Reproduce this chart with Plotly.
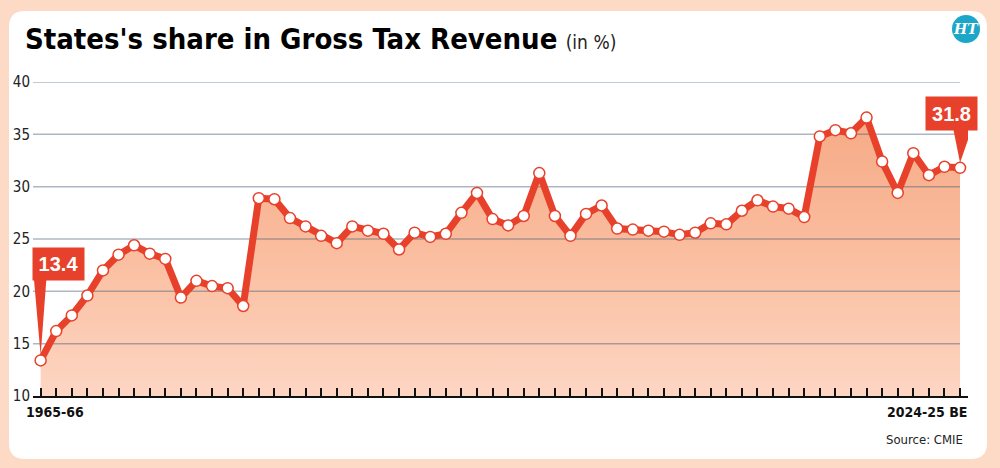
import plotly.graph_objects as go

# ---------------- data ----------------
start_years = list(range(1965, 2025))
years = [f"{y}-{(y + 1) % 100:02d}" for y in start_years]
years[-1] = years[-1] + " BE"

share = [13.4, 16.2, 17.7, 19.6, 22.0, 23.5, 24.4, 23.6, 23.1, 19.4,
         21.0, 20.5, 20.3, 18.6, 28.9, 28.8, 27.0, 26.2, 25.3, 24.6,
         26.2, 25.8, 25.5, 24.0, 25.6, 25.2, 25.5, 27.5, 29.4, 26.9,
         26.3, 27.2, 31.3, 27.2, 25.3, 27.4, 28.2, 26.0, 25.9, 25.8,
         25.7, 25.4, 25.6, 26.5, 26.4, 27.7, 28.7, 28.1, 27.9, 27.1,
         34.8, 35.4, 35.1, 36.6, 32.4, 29.4, 33.2, 31.1, 31.9, 31.8]

y_ticks = [10, 15, 20, 25, 30, 35, 40]
title_text = "States's share in Gross Tax Revenue"
unit_text = "(in %)"
source_text = "Source: CMIE"

# ---------------- layout geometry ----------------
W_FIG, H_FIG = 1000, 468
L, R, T, B = 33, 968, 82, 396
PW, PH = R - L, B - T

def px(x):
    return (x - L) / PW

def py(y):
    return (B - y) / PH

RED = "#E8412B"
PEACH = "#FDDAC6"
NARROW = "DejaVu Sans Condensed, Roboto, sans-serif"

idx = list(range(len(share)))
x_lo, x_hi = -0.49, len(share) - 1 + 0.51

fig = go.Figure()

# baseline for fill
fig.add_trace(go.Scatter(x=idx, y=[y_ticks[0]] * len(idx), mode="lines",
                         line=dict(width=0), hoverinfo="skip", showlegend=False))
# gradient area
fig.add_trace(go.Scatter(
    x=idx, y=share, mode="lines", line=dict(width=0), fill="tonexty",
    fillgradient=dict(type="vertical", start=y_ticks[0], stop=max(share),
                      colorscale=[[0, "rgb(253,214,195)"], [0.5, "rgb(250,190,160)"],
                                  [1, "rgb(246,170,134)"]]),
    hoverinfo="skip", showlegend=False))

# gridlines (drawn over the area, under the line)
gx, gy = [], []
for t in y_ticks[1:]:
    gx += [x_lo, len(share) - 1, None]
    gy += [t, t, None]
fig.add_trace(go.Scatter(x=gx, y=gy, mode="lines",
                         line=dict(color="rgba(70,95,120,0.45)", width=1.5),
                         hoverinfo="skip", showlegend=False))

# main line
fig.add_trace(go.Scatter(
    x=idx, y=share, mode="lines+markers",
    line=dict(color=RED, width=7),
    marker=dict(size=11, color="white", line=dict(color=RED, width=1.5)),
    text=years, hovertemplate="%{text}: %{y}%<extra></extra>", showlegend=False))

# ---------------- shapes ----------------
rr = 16
cx0, cx1, cy0, cy1 = 9, 987, 11, 459
def P(x, y):
    return f"{px(x):.5f},{py(y):.5f}"
card = (f"M {P(cx0 + rr, cy0)} L {P(cx1 - rr, cy0)} Q {P(cx1, cy0)} {P(cx1, cy0 + rr)} "
        f"L {P(cx1, cy1 - rr)} Q {P(cx1, cy1)} {P(cx1 - rr, cy1)} "
        f"L {P(cx0 + rr, cy1)} Q {P(cx0, cy1)} {P(cx0, cy1 - rr)} "
        f"L {P(cx0, cy0 + rr)} Q {P(cx0, cy0)} {P(cx0 + rr, cy0)} Z")

shapes = [
    dict(type="path", xref="paper", yref="paper", path=card,
         fillcolor="white", line=dict(width=0), layer="below"),
    dict(type="circle", xref="paper", yref="paper",
         x0=px(952), x1=px(980), y0=py(43), y1=py(15),
         fillcolor="#1CA6C8", line=dict(width=0), layer="above"),
    # callout pointers
    dict(type="path", xref="x", yref="y", xsizemode="pixel", ysizemode="pixel",
         xanchor=idx[0], yanchor=share[0], path="M 0,5 L -7,85 L 6,85 Z",
         fillcolor=RED, line=dict(width=0), layer="above"),
    dict(type="path", xref="x", yref="y", xsizemode="pixel", ysizemode="pixel",
         xanchor=idx[-1], yanchor=share[-1], path="M 0,5 L -7,40 L 12,40 Z",
         fillcolor=RED, line=dict(width=0), layer="above"),
]

annotations = [
    dict(xref="paper", yref="paper", x=px(23), y=py(39), xanchor="left", yanchor="middle",
         showarrow=False,
         text=f"<b>{title_text}</b> <span style='font-size:19px;color:#222'>{unit_text}</span>",
         font=dict(family=NARROW, size=29, color="#000")),
    dict(xref="paper", yref="paper", x=px(966), y=py(29), xanchor="center", yanchor="middle",
         showarrow=False, text="<b><i>HT</i></b>",
         font=dict(family="DejaVu Serif", size=14, color="white")),
    dict(xref="x", yref="y", x=idx[0], y=share[0], showarrow=False,
         xshift=18, yshift=96, width=51, height=32, borderpad=0, bgcolor=RED,
         text=f"<b>{share[0]}</b>", font=dict(family="Liberation Sans, Arial, sans-serif", size=20, color="white")),
    dict(xref="x", yref="y", x=idx[-1], y=share[-1], showarrow=False,
         xshift=-8.5, yshift=54, width=51, height=33, borderpad=0, bgcolor=RED,
         text=f"<b>{share[-1]}</b>", font=dict(family="Liberation Sans, Arial, sans-serif", size=20, color="white")),
    dict(xref="paper", yref="paper", x=px(24), y=py(412), xanchor="left", yanchor="middle",
         showarrow=False, text=f"<b>{years[0]}</b>",
         font=dict(family=NARROW, size=14, color="#111")),
    dict(xref="paper", yref="paper", x=px(969), y=py(412), xanchor="right", yanchor="middle",
         showarrow=False, text=f"<b>{years[-1]}</b>",
         font=dict(family=NARROW, size=14, color="#111")),
    dict(xref="paper", yref="paper", x=px(965), y=py(439), xanchor="right", yanchor="middle",
         showarrow=False, text=source_text,
         font=dict(family=NARROW, size=13, color="#222")),
]

fig.update_layout(
    width=W_FIG, height=H_FIG,
    margin=dict(l=L, r=W_FIG - R, t=T, b=H_FIG - B, autoexpand=False),
    paper_bgcolor=PEACH, plot_bgcolor="rgba(0,0,0,0)",
    shapes=shapes, annotations=annotations, showlegend=False,
    xaxis=dict(range=[x_lo, x_hi], tickvals=idx, ticktext=[""] * len(idx),
               ticks="inside", ticklen=8, tickwidth=1.5, tickcolor="#111",
               showline=True, linecolor="#111", linewidth=1.5,
               showgrid=False, zeroline=False, fixedrange=True),
    yaxis=dict(range=[y_ticks[0], y_ticks[-1]], tickvals=y_ticks,
               showgrid=False, zeroline=False, showline=False, ticks="",
               tickfont=dict(family=NARROW, size=15, color="#222"),
               ticklabelstandoff=2, fixedrange=True),
)

fig.write_html("out.html", include_plotlyjs=True, config=dict(displayModeBar=False))
